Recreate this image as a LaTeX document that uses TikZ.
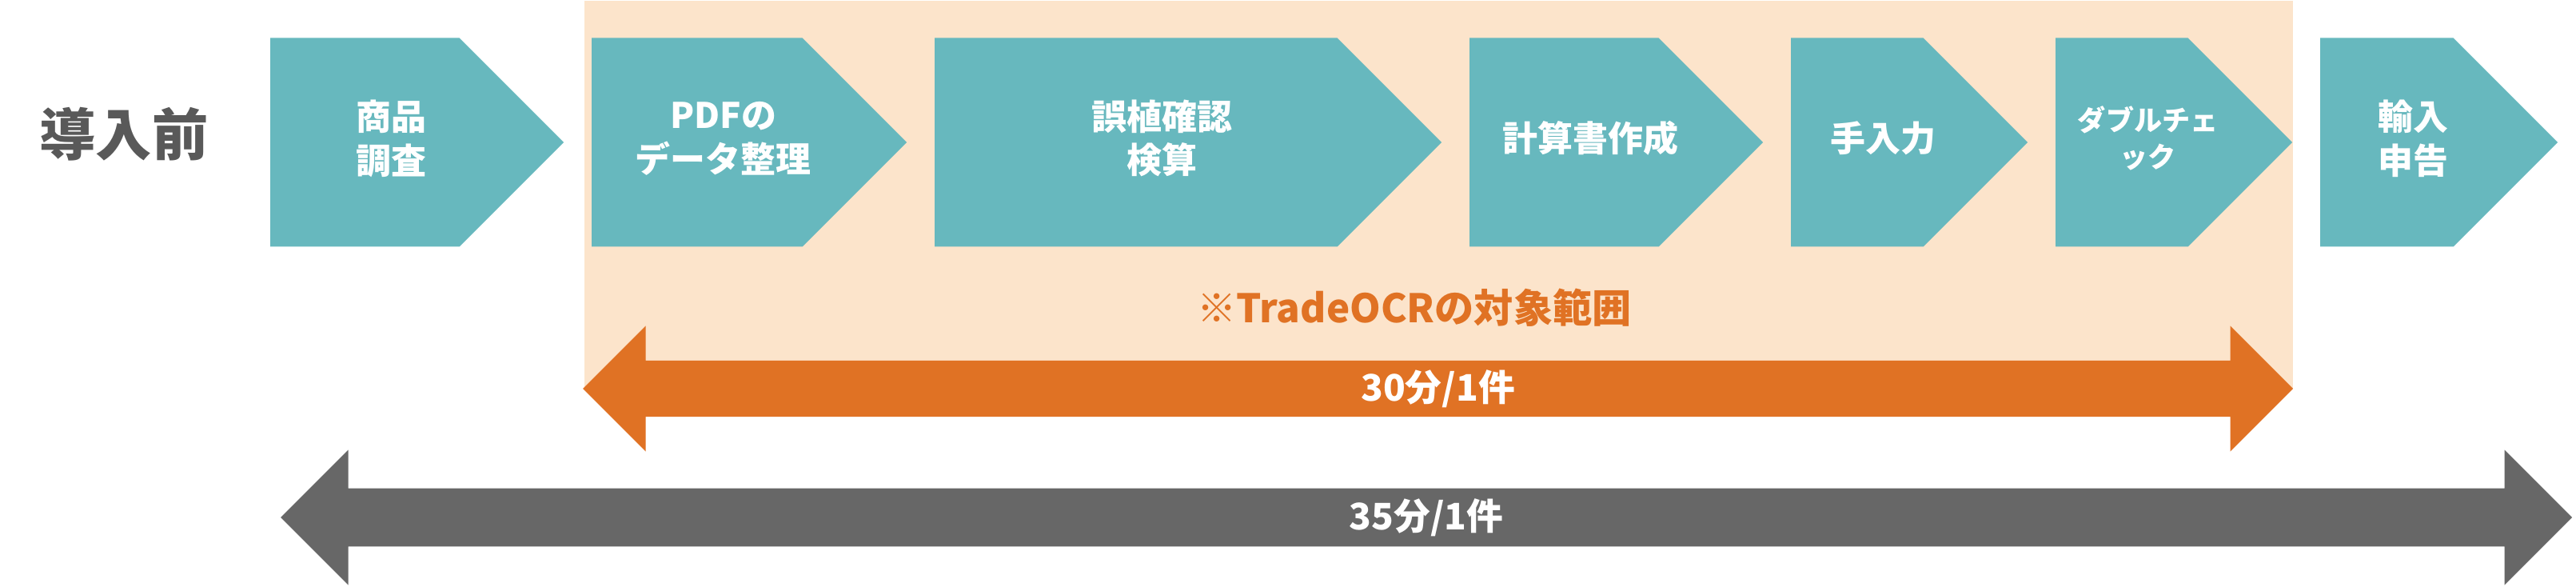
\documentclass[tikz,border=0pt]{standalone}
\usepackage{fontspec}
\setmainfont{Noto Sans CJK JP}
\usetikzlibrary{shapes.symbols,shapes.arrows,positioning}

\definecolor{stepteal}{HTML}{67B8BE}
\definecolor{ocrpeach}{HTML}{FCE4CB}
\definecolor{ocrorange}{HTML}{E07224}
\definecolor{spangray}{HTML}{676767}
\definecolor{titlegray}{HTML}{595959}

\begin{document}
\begin{tikzpicture}[
    stepbox/.style={signal, signal to=east, signal from=nowhere, signal pointer angle=90,
        fill=stepteal, minimum height=2.61cm, inner sep=0pt, outer sep=0pt},
    steptext/.style={text=white, font=\bfseries\fontsize{12.5}{15.6}\selectfont, align=center, xshift=0.33cm, yshift=0.05cm},
    spanarrow/.style={double arrow, double arrow tip angle=90,
        inner sep=0pt, outer sep=0pt, text=white, font=\bfseries\fontsize{13}{15}\selectfont}
]
    \useasboundingbox (0,0) rectangle (32.22,7.33);

    % TradeOCR range
    \node[fill=ocrpeach, inner sep=0pt, outer sep=0pt, anchor=north west,
        minimum width=21.37cm, minimum height=4.85cm] (ocr) at (7.31,7.32) {};

    % Title
    \node[text=titlegray, font=\bfseries\fontsize{20}{24}\selectfont] (title) at (1.55,5.65) {導入前};

    % Steps
    \node[stepbox, minimum width=3.67cm, anchor=west,
        label={[steptext]center:{商品\\調査}}] (c1) at (3.38,5.55) {};
    \node[stepbox, minimum width=3.94cm, right=0.35cm of c1,
        label={[steptext]center:{PDFの\\データ整理}}] (c2) {};
    \node[stepbox, minimum width=6.34cm, right=0.35cm of c2,
        label={[steptext]center:{誤植確認\\検算}}] (c3) {};
    \node[stepbox, minimum width=3.67cm, right=0.35cm of c3,
        label={[steptext]center:計算書作成}] (c4) {};
    \node[stepbox, minimum width=2.96cm, right=0.35cm of c4,
        label={[steptext]center:手入力}] (c5) {};
    \node[stepbox, minimum width=2.96cm, right=0.35cm of c5,
        label={[steptext, font=\bfseries\fontsize{10}{13}\selectfont]center:{ダブルチェ\\ック}}] (c6) {};
    \node[stepbox, minimum width=2.97cm, right=0.35cm of c6,
        label={[steptext]center:{輸入\\申告}}] (c7) {};

    % Spans
    \node[text=ocrorange, font=\bfseries\fontsize{14}{16}\selectfont] (ocrnote) at (17.69,3.48) {※TradeOCRの対象範囲};
    \node[spanarrow, fill=ocrorange, double arrow head extend=0.3cm,
        minimum height=21.39cm, minimum width=1.57cm] (after) at (17.985,2.47) {30分/1件};
    \node[spanarrow, fill=spangray, double arrow head extend=0.32cm,
        minimum height=28.66cm, minimum width=1.69cm] (before) at (17.84,0.86) {35分/1件};
\end{tikzpicture}
\end{document}
